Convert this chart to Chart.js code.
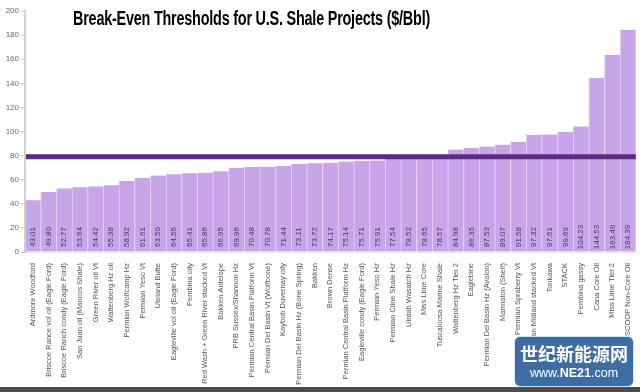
<!DOCTYPE html>
<html>
<head>
<meta charset="utf-8">
<script src="https://cdn.jsdelivr.net/npm/chart.js@4/dist/chart.umd.min.js"></script>
<style>
  html, body { margin: 0; padding: 0; background: #fff; }
  #wrap { position: relative; width: 640px; height: 392px; overflow: hidden; }
  #title { position: absolute; left: 73px; top: 7px; font-family: "Liberation Sans Narrow", "Liberation Sans", Arial, sans-serif; font-weight: bold; font-size: 20px; color: #000; white-space: nowrap; transform-origin: 0 0; letter-spacing: -0.3px; display: inline-block; }
  #wm { position: absolute; left: 515px; top: 337px; width: 118px; height: 49px; background: #3d6da3; border-radius: 5px; color: #fff; text-align: center; box-shadow: 0 0 0 1px #d8e2ee; }
  #wm .cn { font-family: "Noto Sans CJK SC", sans-serif; font-weight: bold; font-size: 18px; line-height: 20px; margin-top: 6px; }
  #wm .en { font-family: "Liberation Sans", Arial, sans-serif; font-size: 12.5px; line-height: 16px; margin-top: 2px; }
  #bar { position: absolute; left: 0; top: 387px; width: 640px; height: 5px; background: #4d4d4d; }
</style>
</head>
<body>
<div id="wrap">
  <canvas id="c" width="640" height="392"></canvas>
  <span id="title">Break-Even Thresholds for U.S. Shale Projects ($/Bbl)</span>
  <div id="wm"><div class="cn">世纪新能源网</div><div class="en">www.<b>NE21</b>.com</div></div>
  <div id="bar"></div>
</div>
<script>
const categories = [
  "Ardmore Woodford",
  "Briscoe Rance vol oil (Eagle Ford)",
  "Briscoe Ranch condy (Eagle Ford)",
  "San Juan oil (Mancos Shale)",
  "Green River oil Vt",
  "Wattenberg Hz oil",
  "Permian Wolfcamp Hz",
  "Permian Yeso Vt",
  "Uteland Butte",
  "Eagleville vol oil (Eagle Ford)",
  "Pembina oily",
  "Red Wash + Green River stacked Vt",
  "Bakken Antelope",
  "PRB Sussex/Shannon Hz",
  "Permian Central Basin Platform Vt",
  "Permian Del Basin Vt (Wolfbone)",
  "Kaybob Duvernay oily",
  "Permian Del Basin Hz (Bone Spring)",
  "Bakken",
  "Brown Dense",
  "Permian Central Basin Platform Hz",
  "Eagleville condy (Eagle Ford)",
  "Permian Yeso Hz",
  "Permian Cline Shale Hz",
  "Uintah Wasatch Hz",
  "Miss Lime Core",
  "Tuscaloosa Marine Shale",
  "Wattenberg Hz Tier 2",
  "Eaglebine",
  "Permian Del Basin Hz (Avalon)",
  "Marmaton (Shelf)",
  "Permian Spraberry Vt",
  "Permian Midland stacked Vt",
  "Tonkawa",
  "STACK",
  "Pembina gassy",
  "Cana Core Oil",
  "Miss Lime Tier 2",
  "SCOOP Non-Core Oil"
];
const breakEven = [
  43.01, 49.80, 52.77, 53.64, 54.42, 55.38, 58.92, 61.61, 63.50, 64.56,
  65.41, 65.86, 66.95, 69.96, 70.48, 70.78, 71.44, 73.11, 73.72, 74.17,
  75.14, 75.71, 75.91, 77.54, 78.52, 78.65, 78.57, 84.98, 86.35, 87.53,
  89.07, 91.58, 97.32, 97.61, 99.69, 104.23, 144.53, 163.49, 184.39
];
const threshold = 79;
const yMin = 0, yMax = 200, yStep = 20;

const thresholdPlugin = {
  id: 'thresholdLine',
  afterDatasetsDraw(chart) {
    const {ctx, chartArea, scales} = chart;
    const y = scales.y.getPixelForValue(threshold);
    ctx.save();
    ctx.strokeStyle = '#5a2b87';
    ctx.lineWidth = 5;
    ctx.beginPath();
    ctx.moveTo(chartArea.left + 1, y);
    ctx.lineTo(chartArea.right, y);
    ctx.stroke();
    ctx.restore();
  }
};

const valueLabelPlugin = {
  id: 'valueLabels',
  afterDatasetsDraw(chart) {
    const {ctx, scales} = chart;
    const meta = chart.getDatasetMeta(0);
    const base = scales.y.getPixelForValue(0);
    ctx.save();
    ctx.fillStyle = '#4a3868';
    ctx.font = '8px "Liberation Sans", Arial, sans-serif';
    ctx.textAlign = 'center';
    ctx.textBaseline = 'middle';
    meta.data.forEach((bar, i) => {
      ctx.save();
      ctx.translate(bar.x, base - 15);
      ctx.rotate(-Math.PI / 2);
      ctx.fillText(breakEven[i].toFixed(2), 0, 0);
      ctx.restore();
    });
    ctx.restore();
  }
};

new Chart(document.getElementById('c'), {
  type: 'bar',
  data: {
    labels: categories,
    datasets: [{
      data: breakEven,
      backgroundColor: '#c8a5e9',
      borderColor: 'rgba(225,205,245,0.9)',
      borderWidth: {left: 1, right: 0, top: 0, bottom: 0},
      barPercentage: 1,
      categoryPercentage: 1
    }]
  },
  options: {
    responsive: false,
    animation: false,
    devicePixelRatio: 1,
    layout: { padding: { top: 11, right: 2, left: 0, bottom: 0 } },
    plugins: { legend: { display: false }, tooltip: { enabled: false }, title: { display: false } },
    scales: {
      x: {
        grid: { display: false },
        border: { display: true, color: '#e4e4e4', width: 1 },
        ticks: {
          autoSkip: false, maxRotation: 90, minRotation: 90,
          color: '#555', padding: 3,
          font: { size: 7.5, family: '"Liberation Sans", Arial, sans-serif' }
        },
        afterFit(scale) { scale.height = 140; }
      },
      y: {
        min: yMin, max: yMax,
        grid: { display: true, drawOnChartArea: false, drawTicks: true, tickLength: 4, color: '#c8c8c8' },
        border: { display: true, color: '#d0d0d0', width: 2 },
        ticks: {
          stepSize: yStep, color: '#666', padding: 2,
          font: { size: 8, family: '"Liberation Sans", Arial, sans-serif' }
        },
        afterFit(scale) { scale.width = 25; }
      }
    }
  },
  plugins: [thresholdPlugin, valueLabelPlugin]
});

// fit title to the reference width (x 73 .. 430)
(function(){
  const t = document.getElementById('title');
  const w = t.getBoundingClientRect().width;
  const target = 357;
  t.style.transform = 'scaleX(' + (target / w).toFixed(4) + ')';
})();
</script>
</body>
</html>
